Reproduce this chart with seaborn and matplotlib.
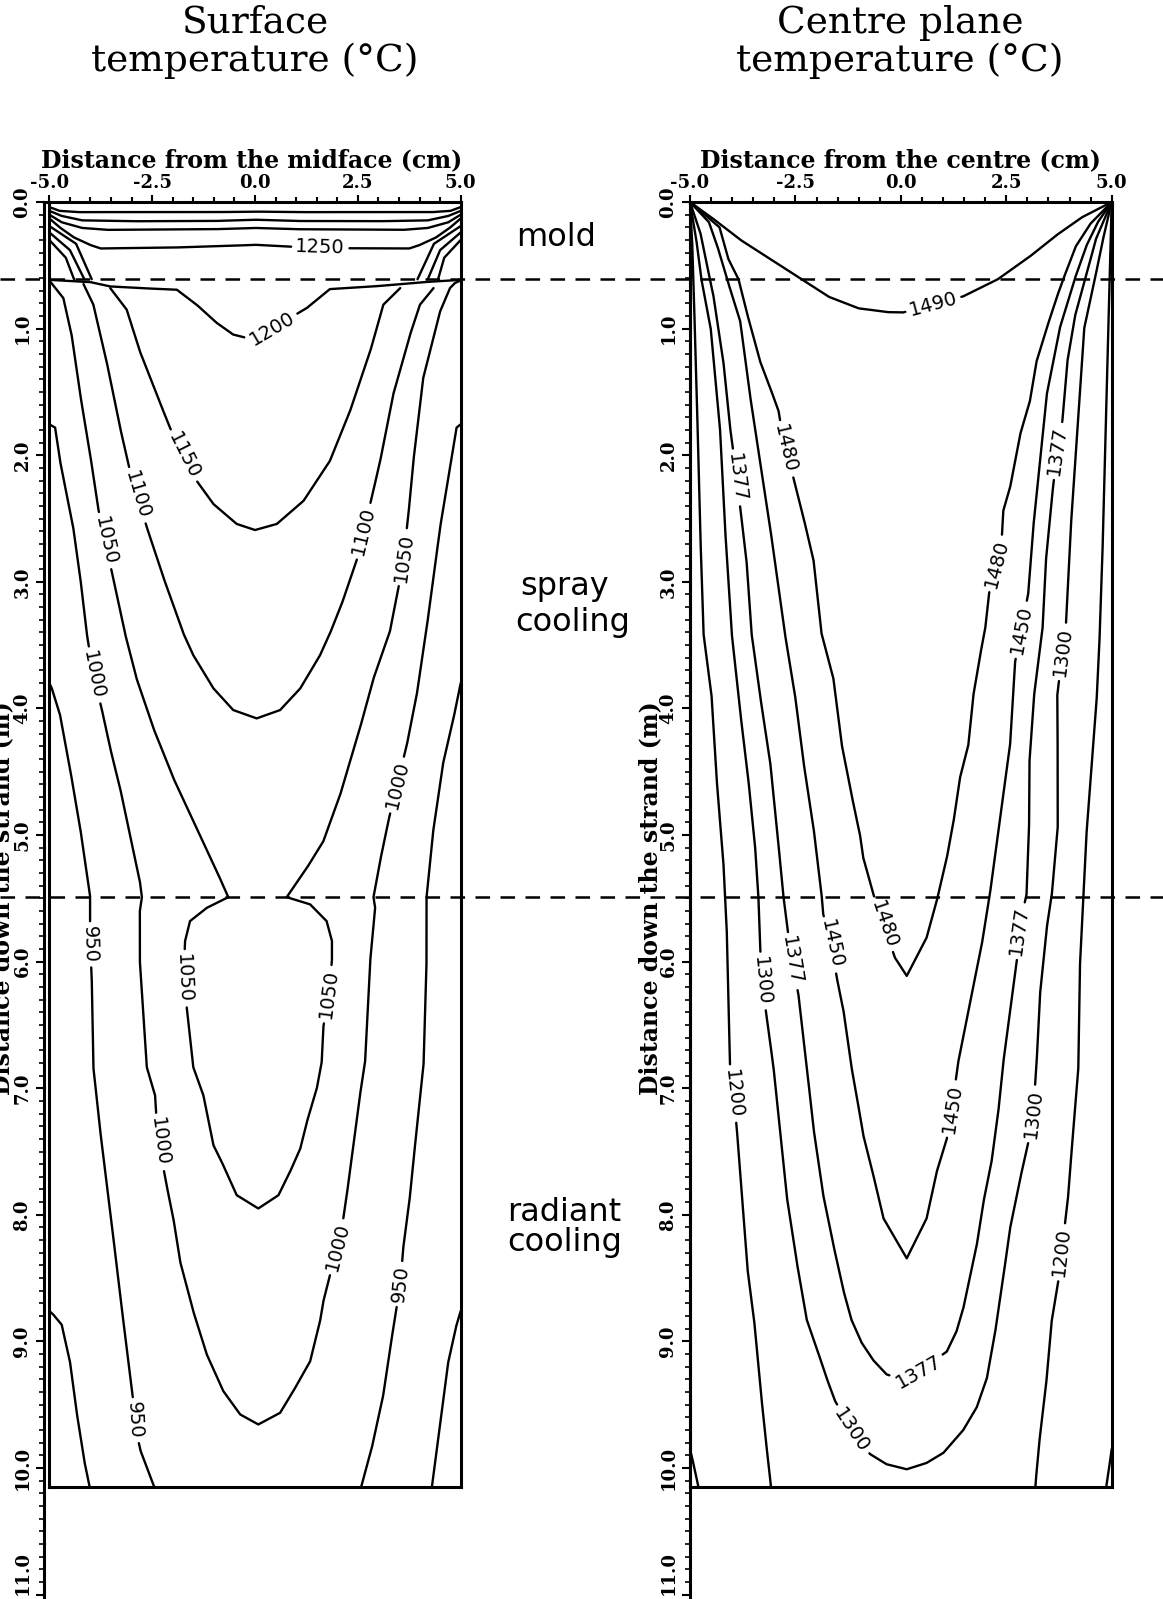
import numpy as np
import pandas as pd
import matplotlib
matplotlib.use("Agg")
import matplotlib.pyplot as plt
import seaborn as sns
from matplotlib.lines import Line2D
from matplotlib.ticker import FormatStrFormatter, MultipleLocator
from matplotlib.transforms import blended_transform_factory

sns.set_theme(style="ticks")
plt.rcParams["font.family"] = ["DejaVu Serif"]
plt.rcParams["axes.unicode_minus"] = False
plt.rcParams["lines.scale_dashes"] = False
plt.rcParams["axes.edgecolor"] = "black"
plt.rcParams["xtick.color"] = "black"
plt.rcParams["ytick.color"] = "black"
plt.rcParams["text.color"] = "black"

# ---------------- data (x in cm, depth in m) ----------------
x_ticks = [-5.0, -2.5, 0.0, 2.5, 5.0]
y_ticks = list(range(0, 12))
mold_exit = 0.61
spray_end = 5.49
box_bottom = 10.15

# Surface temperature contours
surf_mold_a = [(-5.0, 0.04), (-4.75, 0.07), (-4.3, 0.08), (-1.0, 0.08), (0.0, 0.076), (1.0, 0.08), (4.3, 0.08), (4.75, 0.07), (5.0, 0.04)]
surf_mold_b = [(-5.0, 0.07), (-4.7, 0.11), (-4.2, 0.145), (-3.0, 0.152), (-1.0, 0.15), (0.0, 0.14), (1.0, 0.15), (3.0, 0.152), (4.2, 0.145), (4.7, 0.11), (5.0, 0.07)]
surf_mold_c = [(-5.0, 0.10), (-4.7, 0.16), (-4.2, 0.205), (-3.6, 0.22), (-1.0, 0.215), (0.0, 0.205), (1.0, 0.215), (3.6, 0.22), (4.2, 0.205), (4.7, 0.16), (5.0, 0.10)]
surf_1250 = [(-5.0, 0.13), (-4.75, 0.2), (-4.4, 0.28), (-4.0, 0.34), (-3.75, 0.367), (-2.0, 0.36), (-0.5, 0.345), (0.0, 0.338), (1.0, 0.355), (2.0, 0.365), (3.75, 0.367), (4.0, 0.34), (4.4, 0.28), (4.75, 0.2), (5.0, 0.13)]
surf_corner_l1 = [(-5.0, 0.30), (-4.6, 0.44), (-4.4, 0.61)]
surf_corner_l2 = [(-5.0, 0.24), (-4.5, 0.38), (-4.15, 0.61)]
surf_corner_l3 = [(-5.0, 0.19), (-4.35, 0.33), (-3.97, 0.61)]
surf_corner_r1 = [(5.0, 0.30), (4.6, 0.44), (4.45, 0.61)]
surf_corner_r2 = [(5.0, 0.24), (4.5, 0.38), (4.2, 0.61)]
surf_corner_r3 = [(5.0, 0.19), (4.35, 0.33), (3.95, 0.61)]
surf_1200 = [(-5.0, 0.615), (-4.0, 0.633), (-3.52, 0.667), (-2.8, 0.68), (-1.9, 0.693), (-1.42, 0.811), (-0.93, 0.955), (-0.53, 1.047), (-0.04, 1.087), (1.26, 0.837), (1.82, 0.688), (2.88, 0.667), (4.09, 0.633), (5.0, 0.615)]
surf_1150 = [(-3.52, 0.68), (-3.12, 0.85), (-2.8, 1.179), (-2.39, 1.52), (-2.07, 1.782), (-1.42, 2.202), (-1.01, 2.386), (-0.445, 2.543), (0.0, 2.591), (0.53, 2.543), (1.18, 2.36), (1.82, 2.045), (2.31, 1.651), (2.8, 1.179), (3.12, 0.811), (3.53, 0.68)]
surf_1100 = [(-4.17, 0.648), (-3.93, 0.811), (-3.61, 1.257), (-3.28, 1.782), (-3.04, 2.124), (-2.63, 2.57), (-2.23, 2.963), (-1.74, 3.409), (-1.5, 3.58), (-1.01, 3.842), (-0.53, 4.013), (0.04, 4.079), (0.61, 4.013), (1.1, 3.842), (1.58, 3.58), (1.82, 3.409), (2.11, 3.173), (2.47, 2.832), (2.84, 2.33), (3.04, 2.05), (3.36, 1.52), (3.77, 1.047), (4.01, 0.811), (4.34, 0.68)]
surf_1050 = [(-5.0, 0.62), (-4.66, 0.759), (-4.46, 1.047), (-4.25, 1.52), (-4.01, 1.99), (-3.81, 2.425), (-3.48, 2.924), (-3.28, 3.226), (-3.16, 3.409), (-2.88, 3.764), (-2.47, 4.157), (-1.985, 4.551), (-1.42, 4.945), (-0.93, 5.286), (-0.65, 5.491), (-1.17, 5.575), (-1.58, 5.68), (-1.7, 5.837), (-1.74, 6.126), (-1.66, 6.362), (-1.5, 6.835), (-1.255, 7.057), (-1.01, 7.451), (-0.81, 7.582), (-0.445, 7.845), (0.08, 7.95), (0.57, 7.845), (0.85, 7.661), (1.1, 7.477), (1.26, 7.267), (1.5, 7.005), (1.62, 6.795), (1.66, 6.52), (1.78, 6.257), (1.87, 5.995), (1.87, 5.837), (1.74, 5.68), (1.34, 5.548), (0.77, 5.491), (1.26, 5.26), (1.66, 5.05), (2.07, 4.682), (2.55, 4.157), (2.88, 3.764), (3.28, 3.39), (3.49, 3.042), (3.61, 2.807), (3.73, 2.465), (3.85, 2.045), (4.09, 1.389), (4.5, 0.864), (4.74, 0.68), (4.86, 0.64), (5.0, 0.62)]
surf_1000 = [(-5.0, 1.756), (-4.86, 1.782), (-4.74, 2.045), (-4.58, 2.307), (-4.42, 2.57), (-4.25, 2.963), (-4.09, 3.409), (-3.93, 3.737), (-3.73, 4.0), (-3.52, 4.315), (-3.28, 4.63), (-3.04, 4.997), (-2.8, 5.365), (-2.75, 5.491), (-2.8, 5.601), (-2.8, 5.995), (-2.63, 6.835), (-2.43, 7.057), (-2.39, 7.267), (-2.29, 7.52), (-2.15, 7.766), (-1.985, 8.029), (-1.82, 8.37), (-1.5, 8.764), (-1.17, 9.105), (-0.77, 9.393), (-0.36, 9.577), (0.08, 9.656), (0.61, 9.564), (0.93, 9.393), (1.34, 9.157), (1.58, 8.842), (1.66, 8.685), (1.905, 8.37), (2.11, 8.107), (2.23, 7.845), (2.39, 7.451), (2.55, 7.057), (2.675, 6.795), (2.8, 5.995), (2.92, 5.575), (2.88, 5.491), (3.04, 5.207), (3.24, 4.892), (3.45, 4.604), (3.69, 4.289), (3.93, 3.895), (4.17, 3.37), (4.34, 2.963), (4.5, 2.57), (4.66, 2.255), (4.82, 1.94), (4.9, 1.782), (5.0, 1.756)]
surf_950_l = [(-5.0, 3.80), (-4.94, 3.842), (-4.74, 4.052), (-4.5, 4.472), (-4.25, 4.945), (-4.01, 5.483), (-4.01, 5.863), (-3.97, 6.126), (-3.93, 6.835), (-3.77, 7.32), (-3.52, 7.976), (-3.28, 8.632), (-3.08, 9.157), (-2.96, 9.472), (-2.92, 9.67), (-2.78, 9.866), (-2.45, 10.15)]
surf_950_r = [(5.0, 3.80), (4.86, 4.026), (4.58, 4.42), (4.34, 4.945), (4.17, 5.483), (4.17, 5.995), (4.1, 6.8), (3.93, 7.32), (3.77, 7.845), (3.61, 8.239), (3.53, 8.554), (3.36, 8.895), (3.12, 9.42), (2.86, 9.813), (2.58, 10.15)]
surf_900_l = [(-5.0, 8.76), (-4.9, 8.79), (-4.7, 8.868), (-4.5, 9.157), (-4.34, 9.551), (-4.15, 9.945), (-4.02, 10.15)]
surf_900_r = [(5.0, 8.76), (4.9, 8.868), (4.7, 9.157), (4.54, 9.551), (4.38, 9.945), (4.30, 10.15)]

surf_lines = [("", surf_mold_a), ("", surf_mold_b), ("", surf_mold_c), ("1250", surf_1250),
              ("", surf_corner_l1), ("", surf_corner_l2), ("", surf_corner_l3),
              ("", surf_corner_r1), ("", surf_corner_r2), ("", surf_corner_r3),
              ("1200", surf_1200), ("1150", surf_1150), ("1100", surf_1100), ("1050", surf_1050),
              ("1000", surf_1000), ("950", surf_950_l), ("950", surf_950_r), ("", surf_900_l), ("", surf_900_r)]
surf_labels = [("1250", 1.58, 0.366), ("1200", 0.4, 0.99), ("1150", -1.78, 2.01),
               ("1100", -2.88, 2.32), ("1100", 2.64, 2.60),
               ("1050", -3.65, 2.675), ("1050", 3.61, 2.807), ("1050", -1.74, 6.13), ("1050", 1.78, 6.26),
               ("1000", -3.93, 3.74), ("1000", 3.45, 4.60), ("1000", -2.29, 7.42), ("1000", 1.905, 8.25),
               ("950", -4.01, 5.86), ("950", -2.92, 9.62), ("950", 3.53, 8.55)]

# Centre plane temperature contours
cent_1490 = [(-5.0, 0.0), (-4.5, 0.12), (-3.8, 0.3), (-3.1, 0.45), (-2.35, 0.61), (-1.7, 0.75), (-1.0, 0.84), (-0.3, 0.87), (0.06, 0.872), (1.48, 0.745), (2.3, 0.61), (3.06, 0.43), (3.7, 0.26), (4.3, 0.12), (5.0, 0.0)]
cent_1480 = [(-5.0, 0.0), (-4.3, 0.2), (-4.09, 0.45), (-3.85, 0.61), (-3.66, 0.864), (-3.34, 1.257), (-3.1, 1.467), (-2.9, 1.651), (-2.75, 1.953), (-2.55, 2.176), (-2.31, 2.491), (-2.07, 2.832), (-1.88, 3.409), (-1.6, 3.764), (-1.4, 4.289), (-1.17, 4.682), (-0.97, 4.997), (-0.89, 5.181), (-0.65, 5.47), (-0.41, 5.706), (-0.14, 5.969), (0.14, 6.113), (0.61, 5.811), (0.85, 5.522), (1.09, 5.181), (1.25, 4.892), (1.4, 4.551), (1.6, 4.289), (1.72, 3.895), (1.88, 3.58), (2.0, 3.37), (2.11, 3.042), (2.27, 2.858), (2.39, 2.675), (2.43, 2.438), (2.59, 2.255), (2.83, 1.835), (3.06, 1.572), (3.22, 1.257), (3.46, 0.995), (3.7, 0.75), (3.85, 0.61), (4.15, 0.35), (4.5, 0.17), (5.0, 0.0)]
cent_1450 = [(-5.0, 0.0), (-4.55, 0.16), (-4.35, 0.35), (-4.12, 0.61), (-3.81, 0.942), (-3.58, 1.52), (-3.34, 2.045), (-3.1, 2.57), (-2.75, 3.409), (-2.51, 3.895), (-2.31, 4.42), (-2.07, 4.945), (-1.88, 5.47), (-1.84, 5.627), (-1.64, 5.863), (-1.52, 6.126), (-1.36, 6.388), (-1.17, 6.835), (-1.05, 7.057), (-0.89, 7.372), (-0.69, 7.635), (-0.41, 8.029), (0.14, 8.344), (0.61, 8.029), (0.85, 7.661), (1.09, 7.399), (1.21, 7.162), (1.36, 6.795), (1.68, 6.257), (1.92, 5.863), (2.11, 5.47), (2.27, 5.076), (2.43, 4.682), (2.59, 4.289), (2.71, 3.632), (2.85, 3.38), (3.02, 3.094), (3.14, 2.57), (3.3, 2.045), (3.46, 1.52), (3.77, 0.995), (4.13, 0.601), (4.41, 0.339), (4.68, 0.155), (5.0, 0.0)]
cent_1377 = [(-5.0, 0.0), (-4.75, 0.25), (-4.53, 0.61), (-4.45, 0.73), (-4.21, 1.257), (-4.05, 1.782), (-3.89, 2.176), (-3.81, 2.412), (-3.66, 2.832), (-3.54, 3.409), (-3.34, 3.895), (-3.1, 4.42), (-2.94, 4.945), (-2.79, 5.47), (-2.71, 5.68), (-2.59, 5.995), (-2.43, 6.257), (-2.23, 6.835), (-2.07, 7.32), (-1.84, 7.845), (-1.6, 8.239), (-1.36, 8.60), (-1.17, 8.83), (-0.93, 9.01), (-0.65, 9.15), (-0.34, 9.26), (0.0, 9.30), (0.42, 9.24), (1.09, 9.08), (1.32, 8.92), (1.48, 8.74), (1.64, 8.49), (1.8, 8.239), (1.96, 7.897), (2.15, 7.582), (2.31, 7.189), (2.43, 6.795), (2.59, 6.388), (2.75, 5.995), (2.79, 5.758), (2.98, 5.47), (3.04, 4.945), (3.05, 4.42), (3.16, 3.895), (3.36, 3.37), (3.44, 2.832), (3.59, 2.307), (3.71, 1.966), (3.83, 1.73), (3.95, 1.257), (4.13, 0.9), (4.37, 0.61), (4.63, 0.29), (5.0, 0.0)]
cent_1300 = [(-5.0, 0.0), (-4.85, 0.3), (-4.73, 0.61), (-4.51, 0.995), (-4.29, 1.782), (-4.17, 2.57), (-4.01, 3.409), (-3.81, 4.026), (-3.62, 4.551), (-3.46, 5.076), (-3.38, 5.47), (-3.34, 5.85), (-3.3, 6.152), (-3.18, 6.441), (-3.02, 6.835), (-2.87, 7.32), (-2.71, 7.845), (-2.47, 8.37), (-2.23, 8.83), (-1.99, 9.06), (-1.76, 9.29), (-1.56, 9.47), (-1.17, 9.70), (-0.73, 9.89), (-0.34, 9.97), (0.14, 10.01), (0.61, 9.96), (1.01, 9.88), (1.48, 9.70), (1.8, 9.52), (2.04, 9.29), (2.23, 8.94), (2.43, 8.49), (2.59, 8.107), (2.83, 7.714), (3.06, 7.372), (3.14, 7.189), (3.22, 6.795), (3.3, 6.257), (3.46, 5.732), (3.58, 5.47), (3.72, 4.945), (3.72, 4.42), (3.71, 3.895), (3.83, 3.554), (3.91, 3.37), (4.03, 2.57), (4.19, 1.782), (4.35, 0.995), (4.60, 0.61), (4.79, 0.3), (5.0, 0.0)]
cent_1200_l = [(-5.0, 0.0), (-4.95, 0.3), (-4.92, 0.61), (-4.84, 1.52), (-4.76, 2.57), (-4.68, 3.409), (-4.49, 3.895), (-4.37, 4.551), (-4.21, 5.207), (-4.13, 5.732), (-4.05, 6.835), (-3.97, 7.044), (-3.89, 7.32), (-3.77, 7.845), (-3.64, 8.42), (-3.48, 8.83), (-3.32, 9.40), (-3.2, 9.79), (-3.12, 10.02), (-3.08, 10.15)]
cent_1200_r = [(5.0, 0.0), (4.95, 0.61), (4.88, 1.52), (4.8, 2.57), (4.72, 3.39), (4.65, 3.895), (4.53, 4.42), (4.41, 4.945), (4.33, 5.47), (4.25, 5.995), (4.21, 6.835), (4.09, 7.32), (3.97, 7.845), (3.74, 8.51), (3.58, 8.83), (3.46, 9.29), (3.3, 9.74), (3.22, 10.02), (3.19, 10.15)]
cent_edge_l = [(-5.0, 9.85), (-4.93, 9.95), (-4.8, 10.15)]
cent_edge_r = [(5.0, 9.85), (4.95, 9.97), (4.87, 10.15)]

cent_lines = [("1490", cent_1490), ("1480", cent_1480), ("1450", cent_1450), ("1377", cent_1377),
              ("1300", cent_1300), ("1200", cent_1200_l), ("1200", cent_1200_r),
              ("", cent_edge_l), ("", cent_edge_r)]
cent_labels = [("1490", 0.77, 0.80), ("1480", -2.75, 1.953), ("1480", 2.27, 2.858), ("1480", -0.41, 5.706),
               ("1377", -3.89, 2.176), ("1377", 3.71, 1.966), ("1377", -2.59, 5.995), ("1377", 2.79, 5.758),
               ("1377", 0.42, 9.24), ("1450", -1.64, 5.863), ("1450", 2.85, 3.38), ("1450", 1.21, 7.162),
               ("1300", -3.30, 6.152), ("1300", 3.83, 3.554), ("1300", 3.06, 7.2), ("1300", -1.17, 9.70),
               ("1200", -3.97, 7.044), ("1200", 3.85, 8.3)]

# ---------------- figure layout ----------------
W, H = 1163, 1599
TOP = 202
PXM = 126.6
YMAX = (H - TOP) / PXM

fig = plt.figure(figsize=(W / 100, H / 100), dpi=100)
fig.patch.set_facecolor("white")
axL = fig.add_axes([44 / W, 0, (460.7 - 44) / W, (H - TOP) / H])
axR = fig.add_axes([690 / W, 0, (1111.7 - 690) / W, (H - TOP) / H])
XLIMS = {axL: (-5.13, 5.0), axR: (-5.0, 5.0)}
for ax in (axL, axR):
    ax.set_xlim(*XLIMS[ax])
    ax.set_ylim(YMAX, 0)

LABEL_FS = 14
LINE_W = 1.7


def densify(P, step=1.0):
    out = [P[0]]
    for a, b in zip(P[:-1], P[1:]):
        n = max(1, int(np.hypot(*(b - a)) / step))
        t = np.linspace(0, 1, n + 1)[1:]
        out.extend(a + (b - a) * t[:, None])
    return np.array(out)


def draw_contours(ax, lines, labels):
    T = ax.transData
    inv = T.inverted()
    fs_px = LABEL_FS * 100 / 72
    dense = []
    for val, pts in lines:
        D = densify(T.transform(np.asarray(pts, float)))
        dense.append([val, D, np.ones(len(D), bool)])
    texts = []
    for val, lx, ly in labels:
        q = T.transform((lx, ly))
        best = None
        for item in dense:
            if item[0] != val:
                continue
            d = np.hypot(item[1][:, 0] - q[0], item[1][:, 1] - q[1])
            i = int(d.argmin())
            if best is None or d[i] < best[0]:
                best = (d[i], item, i)
        _, item, i = best
        D = item[1]
        c = D[i]
        j0, j1 = max(i - 6, 0), min(i + 6, len(D) - 1)
        ang = np.degrees(np.arctan2(D[j1, 1] - D[j0, 1], D[j1, 0] - D[j0, 0]))
        if ang > 90:
            ang -= 180
        if ang <= -90:
            ang += 180
        r = 0.5 * len(val) * 0.64 * fs_px + 4
        item[2] &= np.hypot(D[:, 0] - c[0], D[:, 1] - c[1]) > r
        xd, yd = inv.transform(c)
        texts.append((val, xd, yd, ang))
    rows = []
    seg = 0
    for val, D, keep in dense:
        idx = np.flatnonzero(keep)
        if len(idx) == 0:
            continue
        runs = np.split(idx, np.flatnonzero(np.diff(idx) > 1) + 1)
        for run in runs:
            if len(run) < 2:
                continue
            pts = inv.transform(D[run])
            for x, y in pts:
                rows.append((x, y, seg))
            seg += 1
    df = pd.DataFrame(rows, columns=["x", "y", "seg"])
    sns.lineplot(data=df, x="x", y="y", units="seg", estimator=None, sort=False,
                 color="black", linewidth=LINE_W, ax=ax, legend=False)
    for ln in ax.lines:
        ln.set_clip_on(False)
    for val, x, y, ang in texts:
        ax.text(x, y, val, rotation=ang, rotation_mode="anchor", ha="center", va="center",
                fontsize=LABEL_FS, family="DejaVu Sans", color="black")


draw_contours(axL, surf_lines, surf_labels)
draw_contours(axR, cent_lines, cent_labels)

for ax in (axL, axR):
    ax.set_xlim(*XLIMS[ax])
    ax.set_ylim(YMAX, 0)
    ax.set_xlabel("")
    ax.set_ylabel("")
    ax.set_facecolor("white")
    # box
    kw = dict(color="black", lw=2.2, solid_capstyle="projecting", clip_on=False)
    ax.plot([-5, -5], [0, box_bottom], **kw)
    ax.plot([5, 5], [0, box_bottom], **kw)
    ax.plot([-5, 5], [box_bottom, box_bottom], **kw)
    for s in ("right", "bottom"):
        ax.spines[s].set_visible(False)
    for s in ("top", "left"):
        ax.spines[s].set_visible(True)
        ax.spines[s].set_linewidth(2.2)
        ax.spines[s].set_color("black")
    ax.xaxis.tick_top()
    ax.set_xticks(x_ticks)
    ax.xaxis.set_major_formatter(FormatStrFormatter("%.1f"))
    ax.xaxis.set_minor_locator(MultipleLocator(0.5))
    ax.tick_params(axis="x", which="major", direction="out", length=5, width=1.5, pad=2,
                   labelsize=13, top=True, bottom=False, labeltop=True, labelbottom=False)
    ax.tick_params(axis="x", which="minor", direction="out", length=3.5, width=1.5, top=True, bottom=False)
    ax.set_yticks(y_ticks)
    ax.yaxis.set_major_formatter(FormatStrFormatter("%.1f"))
    ax.yaxis.set_minor_locator(MultipleLocator(0.1))
    ax.tick_params(axis="y", which="major", direction="out", length=6, width=1.5, pad=3,
                   labelsize=13, labelrotation=90, left=True, right=False)
    ax.tick_params(axis="y", which="minor", direction="out", length=3.5, width=1.2, left=True, right=False)
    plt.setp(ax.get_xticklabels(), fontweight="bold", family="DejaVu Serif")
    ylabs = ax.get_yticklabels()
    plt.setp(ylabs, fontweight="bold", family="DejaVu Serif", va="center")
    ylabs[-1].set_va("bottom")

# dashed zone boundaries across the whole figure
transY = blended_transform_factory(fig.transFigure, axL.transData)
for yv in (mold_exit, spray_end):
    fig.add_artist(Line2D([0, 1], [yv, yv], transform=transY, color="black", lw=1.8,
                          dashes=(10.5, 7.5)))

# titles
fig.text(255 / W, 1 - 42 / H, "Surface\ntemperature (°C)", ha="center", va="center",
         fontsize=27, family="DejaVu Serif", linespacing=1.07)
fig.text(900 / W, 1 - 42 / H, "Centre plane\ntemperature (°C)", ha="center", va="center",
         fontsize=27, family="DejaVu Serif", linespacing=1.07)

# axis labels
fig.text(252 / W, 1 - 160 / H, "Distance from the midface (cm)", ha="center", va="center",
         fontsize=17, fontweight="bold", family="DejaVu Serif")
fig.text(900 / W, 1 - 160 / H, "Distance from the centre (cm)", ha="center", va="center",
         fontsize=17, fontweight="bold", family="DejaVu Serif")
ylab_y = 1 - (TOP + 5.5 * PXM) / H
fig.text(650 / W, ylab_y, "Distance down the strand (m)", rotation=90, ha="center", va="center",
         fontsize=17, fontweight="bold", family="DejaVu Serif")
# the left panel's axis title sits at the very edge of the page, as in the original scan
fig.text(2 / W, ylab_y, "Distance down the strand (m)", rotation=90, ha="center", va="center",
         fontsize=17, fontweight="bold", family="DejaVu Serif")

# zone annotations
fig.text(556 / W, 0.28, "mold", transform=transY, ha="center", va="center", fontsize=23, family="DejaVu Sans")
fig.text(520 / W, 3.04, "spray", transform=transY, ha="left", va="center", fontsize=23, family="DejaVu Sans")
fig.text(515 / W, 3.32, "cooling", transform=transY, ha="left", va="center", fontsize=23, family="DejaVu Sans")
fig.text(507 / W, 7.98, "radiant", transform=transY, ha="left", va="center", fontsize=23, family="DejaVu Sans")
fig.text(507 / W, 8.22, "cooling", transform=transY, ha="left", va="center", fontsize=23, family="DejaVu Sans")

fig.savefig("out.png", dpi=100, facecolor="white")
